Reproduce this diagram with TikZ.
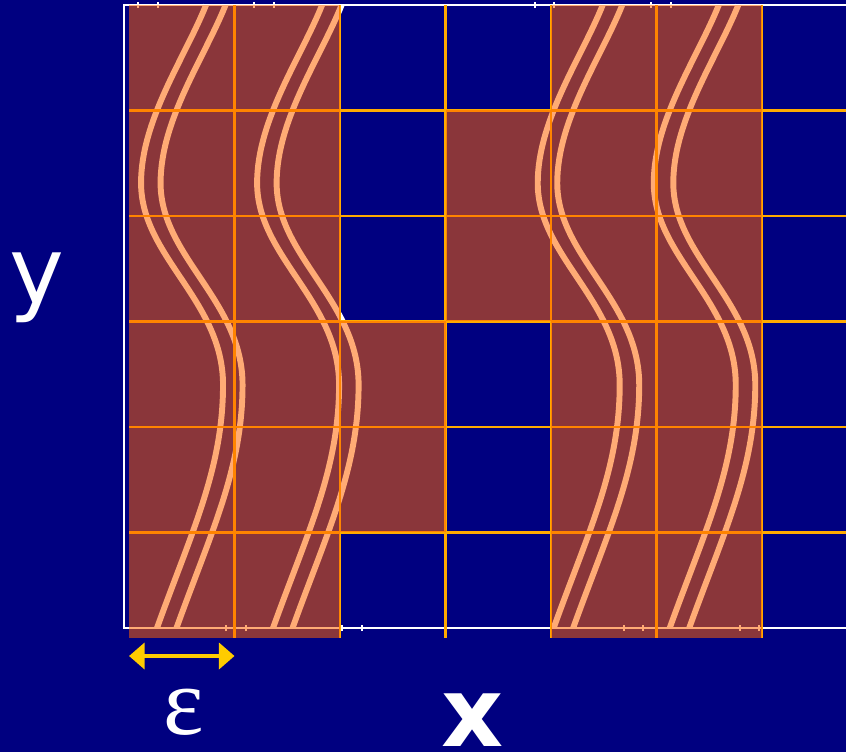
\documentclass[tikz,border=0pt]{standalone}
\usepackage{fontspec}
\usepackage{tikz}
\usetikzlibrary{arrows.meta}
\setmainfont{DejaVu Sans}
\newfontfamily\greekfont{Liberation Serif}
\definecolor{navybg}{HTML}{000080}
\definecolor{gridorange}{HTML}{FFAA00}
\definecolor{burnt}{HTML}{FF6400}
\definecolor{epsyellow}{HTML}{FFCC00}

\begin{document}
\begin{tikzpicture}[
    cell/.style={fill=burnt, fill opacity=0.54},
    wave/.style={white, line width=1.6pt},
    gridln/.style={gridorange, line width=0.6pt},
    ticklet/.style={white, line width=0.4pt},
    arr/.style={{Triangle[length=4.2pt,width=7pt]}-{Triangle[length=4.2pt,width=7pt]}, epsyellow, line width=1.1pt},
    lbl/.style={white, inner sep=0pt, anchor=base}
  ]
  \useasboundingbox (-1.223,-1.08) rectangle (6.796,6.047);
  \fill[navybg] (-1.223,-1.08) rectangle (6.796,6.047);
  \begin{scope}
    \clip (-1.223,-1.08) rectangle (6.796,6.047);
    \draw[white, line width=0.55pt] (7,0.095) -- (-0.047,0.095) -- (-0.047,6) -- (7,6);
    \foreach \tx in {0.085,0.275,1.185,1.374,3.848,4.028,4.948,5.137}
      \draw[ticklet] (\tx,5.97) -- (\tx,6.03);
    \foreach \tx in {0.919,1.109,2.019,2.208,4.692,4.872,5.791,5.972}
      \draw[ticklet] (\tx,0.065) -- (\tx,0.125);
    \foreach \dx in {0,0.185,1.1,1.285,3.76,3.945,4.86,5.045}
      \draw[wave, xshift=\dx cm] (0.265,0.095)
        .. controls (0.589,0.995) and (0.891,1.6) .. (0.891,2.4)
        .. controls (0.891,3.2) and (0.114,3.613) .. (0.114,4.313)
        .. controls (0.114,4.913) and (0.53,5.5) .. (0.73,6.0);
    \foreach \gx in {1,...,6}
      \draw[gridln] (\gx,0) -- (\gx,6);
    \foreach \gy in {1,...,5}
      \draw[gridln] (0,\gy) -- (6.9,\gy);
    \fill[cell] (0,0) rectangle (2,6);
    \fill[cell] (2,1) rectangle (3,3);
    \fill[cell] (3,3) rectangle (4,5);
    \fill[cell] (4,0) rectangle (6,6);
  \end{scope}
  \coordinate (epsL) at (0,-0.171);
  \coordinate (epsR) at (1,-0.171);
  \draw[arr] (epsL) -- (epsR);
  \node[lbl, font=\fontsize{25}{30}\selectfont] (ylab) at (-0.872,3.175) {y};
  \node[lbl, font=\fontsize{26}{30}\selectfont\bfseries] (xlab) at (3.26,-1.03) {x};
  \node[lbl, font=\greekfont\fontsize{26}{30}\selectfont] (epslab) at (0.52,-0.919) {\symbol{"03B5}};
\end{tikzpicture}
\end{document}
